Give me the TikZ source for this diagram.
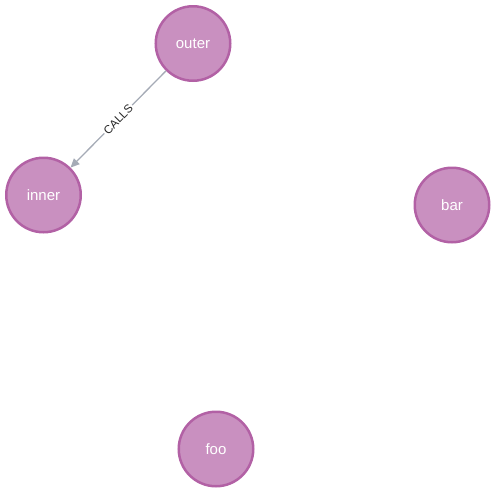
\documentclass[tikz,border=0pt]{standalone}
\usepackage{fontspec}
\setmainfont{Liberation Sans}
\usetikzlibrary{arrows.meta}
\definecolor{nodefill}{HTML}{C990C0}
\definecolor{nodeborder}{HTML}{B261A5}
\definecolor{edgecol}{HTML}{A5ABB6}
\tikzset{
  gnode/.style={circle, draw=nodeborder, fill=nodefill, line width=2.5pt, minimum size=74.5pt, inner sep=0pt, text=white, font=\fontsize{15}{17}\selectfont},
  rel/.style={draw=edgecol, line width=1.3pt, -{Triangle[length=9pt,width=8pt]}},
  rellabel/.style={fill=white, inner sep=1.5pt, text=black!85, font=\fontsize{11.5}{12}\selectfont, sloped}
}
\begin{document}
\begin{tikzpicture}[x=1pt,y=-1pt]
\useasboundingbox (0,0) rectangle (496,493);
\node[gnode] (outer) at (193,43.5) {outer};
\node[gnode] (inner) at (43.5,195) {inner};
\node[gnode] (bar) at (452,205) {bar};
\node[gnode] (foo) at (216,449) {foo};
\draw[rel] (outer) -- node[rellabel, allow upside down=false] {CALLS} (inner);
\end{tikzpicture}
\end{document}
